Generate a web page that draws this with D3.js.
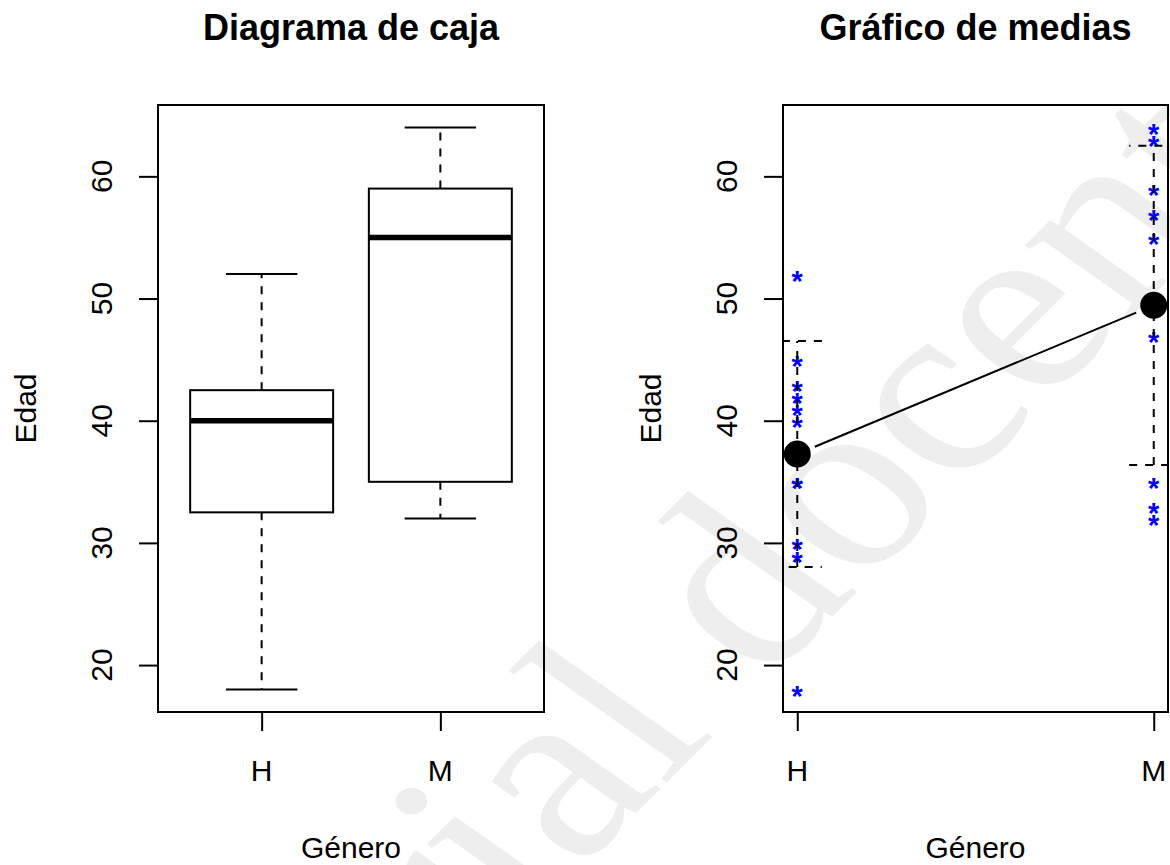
<!DOCTYPE html>
<html>
<head>
<meta charset="utf-8">
<script src="https://cdn.jsdelivr.net/npm/d3@7"></script>
<style>
  body { margin: 0; background: #fff; }
  svg { display: block; }
</style>
</head>
<body>
<script>
// Ages by gender
const groups = ["H", "M"];
const edadH = [18, 29, 30, 35, 35, 40, 41, 42, 43, 45, 52];
const edadM = [32, 33, 35, 47, 55, 57, 59, 63, 64];
const yTicks = [20, 30, 40, 50, 60];
const titles = ["Diagrama de caja", "Gráfico de medias"];
const xLabel = "Género";
const yLabel = "Edad";
const watermark = "material docente";

const series = [edadH, edadM];

const W = 1170, H = 865;
const LW = 2;            // base line width
const DASH = "8,8";      // dashed line pattern
const FONT = "'Liberation Sans', Arial, Helvetica, sans-serif";

const svg = d3.select("body").append("svg")
  .attr("width", W).attr("height", H)
  .style("font-family", FONT);

// Tukey five-number summary
function fivenum(arr) {
  const x = arr.slice().sort(d3.ascending);
  const n = x.length;
  const n4 = Math.floor((n + 3) / 2) / 2;
  const d = [1, n4, (n + 1) / 2, n + 1 - n4, n];
  return d.map(i => 0.5 * (x[Math.floor(i) - 1] + x[Math.ceil(i) - 1]));
}

// Shared vertical scale (data range padded by 4%)
const all = edadH.concat(edadM);
const [lo, hi] = d3.extent(all);
const pad = (hi - lo) * 0.04;
const plotTop = 105, plotBottom = 712;
const y = d3.scaleLinear().domain([lo - pad, hi + pad]).range([plotBottom, plotTop]);

const left = { x0: 158, x1: 544 };
const right = { x0: 783, x1: 1168 };

const xBox = d3.scaleLinear()
  .domain([0.5 - 0.08, groups.length + 0.5 + 0.08])
  .range([left.x0, left.x1]);
const xMean = d3.scaleLinear()
  .domain([1 - 0.04, groups.length + 0.04])
  .range([right.x0, right.x1]);

// Background watermark
svg.append("text")
  .attr("transform", "translate(724,725) scale(1.19,1) rotate(-50)")
  .attr("text-anchor", "middle")
  .style("font-family", "'Liberation Serif', 'Times New Roman', serif")
  .style("font-size", "250px")
  .attr("fill", "#eeeeee")
  .text(watermark);

// Axes, frame and labels for one panel
function decorate(x, p, title) {
  const g = svg.append("g");
  const cx = (p.x0 + p.x1) / 2;

  // y ticks
  const ya = g.append("g")
    .attr("transform", `translate(${p.x0},0)`)
    .call(d3.axisLeft(y).tickValues(yTicks).tickSize(19).tickSizeOuter(0).tickFormat(() => ""));
  ya.select(".domain").remove();
  ya.selectAll("line").attr("stroke", "#000").attr("stroke-width", LW);

  g.selectAll(".ylab").data(yTicks).join("text")
    .attr("class", "ylab")
    .attr("transform", d => `translate(${p.x0 - 46},${y(d)}) rotate(-90)`)
    .attr("text-anchor", "middle")
    .style("font-size", "30px")
    .text(d => d);

  // x ticks
  const xa = g.append("g")
    .attr("transform", `translate(0,${plotBottom})`)
    .call(d3.axisBottom(x).tickValues(groups.map((_, i) => i + 1)).tickSize(19).tickSizeOuter(0).tickFormat(() => ""));
  xa.select(".domain").remove();
  xa.selectAll("line").attr("stroke", "#000").attr("stroke-width", LW);

  g.selectAll(".xlab").data(groups).join("text")
    .attr("class", "xlab")
    .attr("x", (d, i) => x(i + 1))
    .attr("y", 781)
    .attr("text-anchor", "middle")
    .style("font-size", "30px")
    .text(d => d);

  // frame
  g.append("rect")
    .attr("x", p.x0).attr("y", plotTop)
    .attr("width", p.x1 - p.x0).attr("height", plotBottom - plotTop)
    .attr("fill", "none").attr("stroke", "#000").attr("stroke-width", LW);

  // axis titles
  g.append("text")
    .attr("transform", `translate(${p.x0 - 122},${(plotTop + plotBottom) / 2}) rotate(-90)`)
    .attr("text-anchor", "middle")
    .style("font-size", "30px")
    .text(yLabel);
  g.append("text")
    .attr("x", cx).attr("y", 858)
    .attr("text-anchor", "middle")
    .style("font-size", "30px")
    .text(xLabel);

  // main title
  g.append("text")
    .attr("x", cx).attr("y", 39.5)
    .attr("text-anchor", "middle")
    .style("font-size", "36px")
    .style("font-weight", "bold")
    .text(title);
}

// ---------- Box plot ----------
const boxG = svg.append("g");
series.forEach((vals, i) => {
  const [mn, q1, med, q3, mx] = fivenum(vals);
  const iqr = q3 - q1;
  const loW = d3.min(vals.filter(v => v >= q1 - 1.5 * iqr));
  const hiW = d3.max(vals.filter(v => v <= q3 + 1.5 * iqr));
  const c = i + 1;
  const xc = xBox(c);

  // whiskers
  boxG.append("line")
    .attr("x1", xc).attr("x2", xc).attr("y1", y(q1)).attr("y2", y(loW))
    .attr("stroke", "#000").attr("stroke-width", LW).attr("stroke-dasharray", DASH);
  boxG.append("line")
    .attr("x1", xc).attr("x2", xc).attr("y1", y(q3)).attr("y2", y(hiW))
    .attr("stroke", "#000").attr("stroke-width", LW).attr("stroke-dasharray", DASH);
  [loW, hiW].forEach(v => {
    boxG.append("line")
      .attr("x1", xBox(c - 0.2)).attr("x2", xBox(c + 0.2))
      .attr("y1", y(v)).attr("y2", y(v))
      .attr("stroke", "#000").attr("stroke-width", LW);
  });

  // box
  boxG.append("rect")
    .attr("x", xBox(c - 0.4)).attr("y", y(q3))
    .attr("width", xBox(c + 0.4) - xBox(c - 0.4))
    .attr("height", y(q1) - y(q3))
    .attr("fill", "none").attr("stroke", "#000").attr("stroke-width", LW);

  // median
  boxG.append("line")
    .attr("x1", xBox(c - 0.4)).attr("x2", xBox(c + 0.4))
    .attr("y1", y(med)).attr("y2", y(med))
    .attr("stroke", "#000").attr("stroke-width", 5.5);
});
decorate(xBox, left, titles[0]);

// ---------- Means plot ----------
svg.append("clipPath").attr("id", "clipMeans")
  .append("rect")
  .attr("x", right.x0).attr("y", plotTop)
  .attr("width", right.x1 - right.x0).attr("height", plotBottom - plotTop);

const meanG = svg.append("g").attr("clip-path", "url(#clipMeans)");
const stats = series.map(vals => ({ m: d3.mean(vals), s: d3.deviation(vals) }));
const CAP = 24.6;

// raw observations
series.forEach((vals, i) => {
  meanG.selectAll(null).data(vals).join("text")
    .attr("x", xMean(i + 1))
    .attr("y", d => y(d) + 16.5)
    .attr("text-anchor", "middle")
    .attr("fill", "#0000ff")
    .style("font-size", "29px")
    .style("font-weight", "bold")
    .text("*");
});

// mean ± sd bars
stats.forEach((st, i) => {
  const xc = xMean(i + 1);
  const yl = y(st.m - st.s), yu = y(st.m + st.s);
  meanG.append("line")
    .attr("x1", xc).attr("x2", xc).attr("y1", yl).attr("y2", yu)
    .attr("stroke", "#000").attr("stroke-width", LW).attr("stroke-dasharray", DASH);
  meanG.append("path")
    .attr("d", `M${xc - CAP},${yl}L${xc + CAP},${yl}`)
    .attr("fill", "none").attr("stroke", "#000").attr("stroke-width", LW).attr("stroke-dasharray", DASH);
  meanG.append("path")
    .attr("d", `M${xc + CAP},${yu}L${xc - CAP},${yu}`)
    .attr("fill", "none").attr("stroke", "#000").attr("stroke-width", LW).attr("stroke-dasharray", DASH);
});

// line joining the means, with a gap around each point
for (let i = 0; i < stats.length - 1; i++) {
  const ax = xMean(i + 1), ay = y(stats[i].m);
  const bx = xMean(i + 2), by = y(stats[i + 1].m);
  const len = Math.hypot(bx - ax, by - ay);
  const ux = (bx - ax) / len, uy = (by - ay) / len;
  const gap = 19;
  meanG.append("line")
    .attr("x1", ax + ux * gap).attr("y1", ay + uy * gap)
    .attr("x2", bx - ux * gap).attr("y2", by - uy * gap)
    .attr("stroke", "#000").attr("stroke-width", LW);
}

meanG.selectAll(".mean").data(stats).join("circle")
  .attr("class", "mean")
  .attr("cx", (d, i) => xMean(i + 1))
  .attr("cy", d => y(d.m))
  .attr("r", 13.5)
  .attr("fill", "#000");

decorate(xMean, right, titles[1]);
</script>
</body>
</html>
